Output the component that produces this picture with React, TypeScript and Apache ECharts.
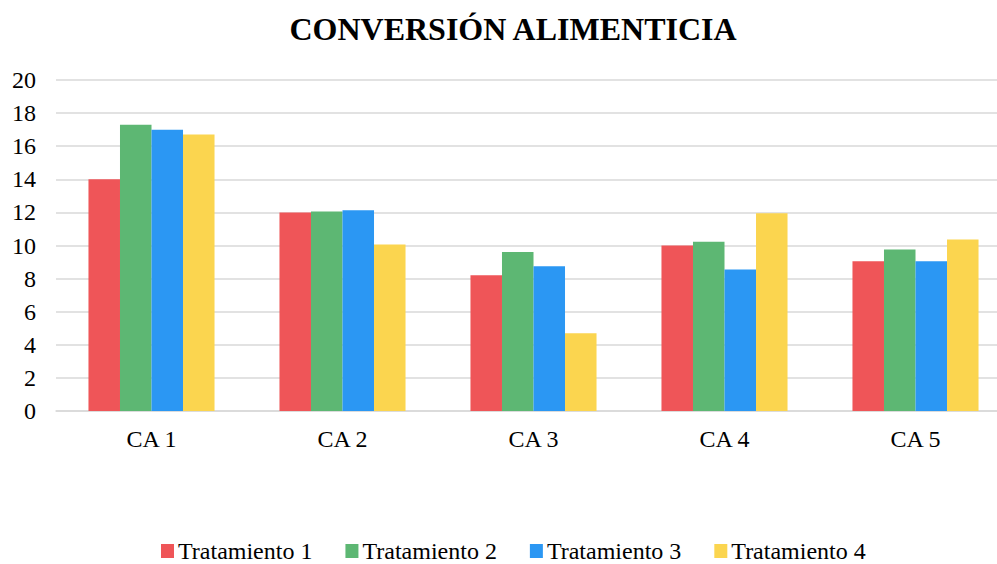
import React, { useEffect, useRef } from "react";
import * as echarts from "echarts";

const categories = ["CA 1", "CA 2", "CA 3", "CA 4", "CA 5"];
const seriesNames = ["Tratamiento 1", "Tratamiento 2", "Tratamiento 3", "Tratamiento 4"];
const t1 = [14.0, 12.0, 8.2, 10.0, 9.05];
const t2 = [17.3, 12.05, 9.6, 10.22, 9.76];
const t3 = [17.0, 12.13, 8.75, 8.55, 9.05];
const t4 = [16.7, 10.06, 4.7, 11.95, 10.36];
const colors = ["#EF5558", "#5DB773", "#2B97F3", "#FBD54F"];

export default function App() {
  const ref = useRef<HTMLDivElement>(null);
  useEffect(() => {
    const chart = echarts.init(ref.current!, null, { renderer: "svg" });
    const font = "Liberation Serif";
    const data = [t1, t2, t3, t4];
    chart.setOption({
      animation: false,
      textStyle: { fontFamily: font },
      title: {
        text: "CONVERSIÓN ALIMENTICIA",
        left: 508,
        textAlign: "center",
        top: 8,
        textStyle: { fontFamily: font, fontSize: 32, fontWeight: "bold", color: "#000" },
      },
      legend: {
        top: 539,
        left: 161,
        itemWidth: 13,
        itemHeight: 14,
        itemGap: 33,
        padding: 0,
        icon: "rect",
        textStyle: { fontFamily: font, fontSize: 24, color: "#000", padding: [0, 0, 0, -1] },
        data: seriesNames,
      },
      grid: { left: 56, right: -14, top: 80, height: 331, outerBoundsMode: "none", containLabel: false },
      xAxis: {
        type: "category",
        data: categories,
        axisTick: { show: false },
        axisLine: { lineStyle: { color: "#d9d9d9", width: 1.5 } },
        axisLabel: { fontFamily: font, fontSize: 24, color: "#000", margin: 16 },
      },
      yAxis: {
        type: "value",
        min: 0,
        max: 20,
        interval: 2,
        axisLine: { show: false },
        axisTick: { show: false },
        splitLine: { lineStyle: { color: "#d9d9d9", width: 1.5 } },
        axisLabel: { fontFamily: font, fontSize: 24, color: "#000", margin: 20 },
      },
      series: data.map((d, i) => ({
        name: seriesNames[i],
        type: "bar",
        data: d,
        barGap: "0%",
        barCategoryGap: "34%",
        itemStyle: { color: colors[i] },
      })),
    });
    return () => chart.dispose();
  }, []);
  return (
    <div
      ref={ref}
      style={{ position: "absolute", left: 0, top: 0, width: 997, height: 564, background: "#fff" }}
    />
  );
}
